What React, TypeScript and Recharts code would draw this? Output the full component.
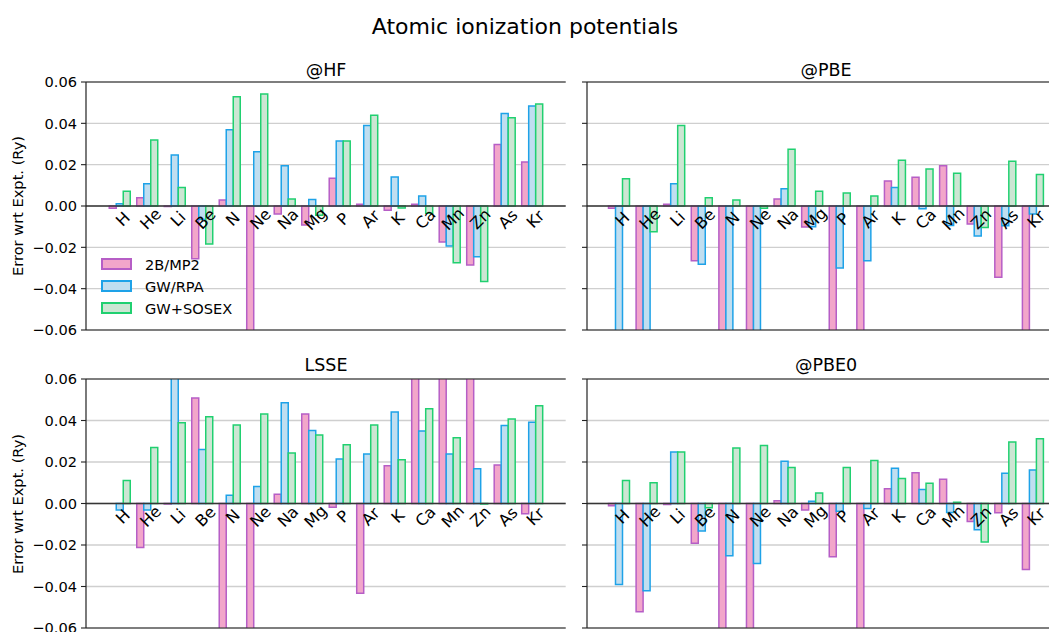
import React from 'react';
import {
  ComposedChart,
  Bar,
  Line,
  XAxis,
  YAxis,
  CartesianGrid,
  ReferenceLine,
  LabelList,
  Legend,
} from 'recharts';

// ---------- data ----------
const ELEMENTS = ['H', 'He', 'Li', 'Be', 'N', 'Ne', 'Na', 'Mg', 'P', 'Ar', 'K', 'Ca', 'Mn', 'Zn', 'As', 'Kr'];

const HF_MP2 = [-0.0011, 0.004, -0.0003, -0.0255, 0.0029, -0.075, -0.0039, -0.0092, 0.0134, 0.0008, -0.0021, 0.0008, -0.0174, -0.0285, 0.0297, 0.0213];
const HF_RPA = [0.0011, 0.0108, 0.0247, -0.0065, 0.0369, 0.0263, 0.0195, 0.0031, 0.0315, 0.0389, 0.014, 0.0048, -0.0194, -0.0245, 0.0448, 0.0484];
const HF_SOSEX = [0.0071, 0.0319, 0.0089, -0.0184, 0.0529, 0.0542, 0.0034, -0.0045, 0.0315, 0.0439, -0.001, -0.0035, -0.0274, -0.0365, 0.0427, 0.0494];

const PBE_MP2 = [-0.0011, -0.075, 0.0008, -0.0265, -0.075, -0.075, 0.0034, -0.0102, -0.075, -0.075, 0.0121, 0.0139, 0.0195, -0.0087, -0.0345, -0.075];
const PBE_RPA = [-0.075, -0.075, 0.0108, -0.0282, -0.075, -0.075, 0.0084, -0.01, -0.03, -0.0265, 0.009, -0.0013, -0.0094, -0.0145, -0.0096, -0.0039];
const PBE_SOSEX = [0.0132, -0.0124, 0.0389, 0.004, 0.0029, -0.0011, 0.0274, 0.0071, 0.0063, 0.0048, 0.0221, 0.0179, 0.0158, -0.0104, 0.0216, 0.0153];

const LSSE_MP2 = [0, -0.0212, -0.0003, 0.0508, -0.075, -0.075, 0.0045, 0.0431, -0.0018, -0.0432, 0.0182, 0.075, 0.075, 0.075, 0.0186, -0.005];
const LSSE_RPA = [-0.0031, -0.0031, 0.075, 0.026, 0.004, 0.0082, 0.0486, 0.0352, 0.0214, 0.0238, 0.0441, 0.0349, 0.0238, 0.0167, 0.0376, 0.0391];
const LSSE_SOSEX = [0.0111, 0.027, 0.0389, 0.0418, 0.0378, 0.0431, 0.0243, 0.033, 0.0283, 0.0378, 0.0211, 0.0457, 0.0317, -0.0003, 0.0407, 0.0471];

const PBE0_MP2 = [-0.0011, -0.0522, -0.0005, -0.0191, -0.075, -0.075, 0.0013, -0.0031, -0.0257, -0.075, 0.0071, 0.0148, 0.0117, -0.0087, -0.0045, -0.0318];
const PBE0_RPA = [-0.039, -0.042, 0.0248, -0.0133, -0.0252, -0.0289, 0.0204, 0.0011, -0.0037, -0.0024, 0.017, 0.0068, -0.0043, -0.0127, 0.0146, 0.0161];
const PBE0_SOSEX = [0.0111, 0.01, 0.0248, -0.0021, 0.0268, 0.028, 0.0174, 0.0051, 0.0174, 0.0207, 0.0121, 0.0098, 0.0006, -0.0185, 0.0296, 0.0312];

const Y_TICKS = [-0.06, -0.04, -0.02, 0, 0.02, 0.04, 0.06];

const SERIES = [
  { key: 'mp2', name: '2B/MP2', fill: '#f2a6ca', stroke: '#b65ec6' },
  { key: 'rpa', name: 'GW/RPA', fill: '#c0def0', stroke: '#1ea2e8' },
  { key: 'sosex', name: 'GW+SOSEX', fill: '#cce6d3', stroke: '#20d070' },
];

const buildRows = (mp2: number[], rpa: number[], sosex: number[]) =>
  ELEMENTS.map((el, i) => ({ el, mp2: mp2[i], rpa: rpa[i], sosex: sosex[i] }));

const FONT = '"DejaVu Sans", sans-serif';

const fmt = (v: number) => {
  const s = Math.abs(v).toFixed(2);
  return v < -1e-9 ? '\u2212' + s : s;
};

const ElementLabel = (props: any) => {
  const { x, y, value } = props;
  if (x == null || y == null) return null;
  const tx = Number(x) + 3;
  const ty = Number(y) + 13;
  return (
    <text
      x={tx}
      y={ty}
      transform={`rotate(-45 ${tx} ${ty})`}
      textAnchor="middle"
      dominantBaseline="central"
      fontSize={16}
      fontFamily={FONT}
      fill="#000"
    >
      {value}
    </text>
  );
};

const LegendContent = () => (
  <div style={{ display: 'flex', flexDirection: 'column', fontFamily: FONT }}>
    {SERIES.map((s) => (
      <div key={s.key} style={{ display: 'flex', alignItems: 'center', height: 22 }}>
        <div
          style={{
            width: 27,
            height: 8,
            background: s.fill,
            border: `2px solid ${s.stroke}`,
            marginRight: 13,
          }}
        />
        <span style={{ fontSize: 14.6, color: '#000', whiteSpace: 'nowrap' }}>{s.name}</span>
      </div>
    ))}
  </div>
);

type PanelProps = {
  rows: any[];
  left: number;
  top: number;
  width: number;
  height: number;
  showTickLabels: boolean;
  padL: number;
  padR: number;
  legend?: boolean;
};

const ML = 80;
const MT = 40;
const MR = 20;
const MB = 10;

function Panel({ rows, left, top, width, height, showTickLabels, padL, padR, legend }: PanelProps) {
  return (
    <div style={{ position: 'absolute', left: left - ML, top: top - MT }}>
      <ComposedChart
        width={width + ML + MR}
        height={height + MT + MB}
        data={rows}
        margin={{ top: MT, right: MR, bottom: MB, left: ML - 60 }}
        barGap={0}
      >
        <CartesianGrid vertical={false} stroke="#cfcfcf" strokeWidth={1.4} />
        <XAxis dataKey="el" hide padding={{ left: padL, right: padR }} />
        <YAxis
          width={60}
          domain={[-0.06, 0.06]}
          ticks={Y_TICKS}
          allowDataOverflow
          interval={0}
          tickFormatter={(v: number) => (showTickLabels ? fmt(v) : '')}
          tick={{ fontSize: 14.6, fill: '#000', fontFamily: FONT }}
          tickLine={{ stroke: '#222', strokeWidth: 1.1 }}
          tickSize={5}
          tickMargin={4}
          axisLine={{ stroke: '#222', strokeWidth: 1.2 }}
        />
        <YAxis
          yAxisId="r"
          orientation="right"
          width={0}
          domain={[-0.06, 0.06]}
          tick={false}
          tickLine={false}
          axisLine={{ stroke: '#222', strokeWidth: 1.2 }}
        />
        {SERIES.map((s) => (
          <Bar
            key={s.key}
            dataKey={s.key}
            name={s.name}
            fill={s.fill}
            stroke={s.stroke}
            strokeWidth={1.5}
            barSize={7}
            isAnimationActive={false}
          />
        ))}
        <ReferenceLine y={0} stroke="#363636" strokeWidth={1.6} />
        <ReferenceLine y={0.06} stroke="#222" strokeWidth={1.2} />
        <ReferenceLine y={-0.06} stroke="#222" strokeWidth={1.2} />
        <Line
          dataKey={() => 0}
          stroke="none"
          dot={false}
          activeDot={false}
          legendType="none"
          isAnimationActive={false}
        >
          <LabelList dataKey="el" content={ElementLabel} />
        </Line>
        {legend ? (
          <Legend
            layout="vertical"
            align="center"
            verticalAlign="middle"
            wrapperStyle={{ left: 95, top: 211, width: 'auto' }}
            content={LegendContent}
          />
        ) : null}
      </ComposedChart>
    </div>
  );
}

const textBase: React.CSSProperties = {
  position: 'absolute',
  fontFamily: FONT,
  color: '#000',
  textAlign: 'center',
  whiteSpace: 'nowrap',
};

function CenterText({ cx, cy, size, text }: { cx: number; cy: number; size: number; text: string }) {
  const w = 500;
  const h = size * 1.4;
  return (
    <div style={{ ...textBase, left: cx - w / 2, top: cy - h / 2, width: w, height: h, lineHeight: `${h}px`, fontSize: size }}>
      {text}
    </div>
  );
}

function YLabel({ cx, cy }: { cx: number; cy: number }) {
  const w = 220;
  const h = 20;
  return (
    <div
      style={{
        ...textBase,
        left: cx - w / 2,
        top: cy - h / 2,
        width: w,
        height: h,
        lineHeight: `${h}px`,
        fontSize: 14.6,
        transform: 'rotate(-90deg)',
      }}
    >
      Error wrt Expt. (Ry)
    </div>
  );
}

export default function App() {
  const L = { left: 86, width: 479.7, padL: 20.25, padR: 19.5 };
  const R = { left: 586.5, width: 479, padL: 18.5, padR: 19 };
  const T = { top: 82, height: 248 };
  const B = { top: 379.3, height: 249 };
  return (
    <div
      style={{
        position: 'absolute',
        left: 0,
        top: 0,
        width: 1049,
        height: 632,
        overflow: 'hidden',
        background: '#fff',
        fontFamily: FONT,
      }}
    >
      <CenterText cx={525} cy={27} size={22} text="Atomic ionization potentials" />
      <CenterText cx={326} cy={70} size={17.5} text="@HF" />
      <CenterText cx={826} cy={70} size={17.5} text="@PBE" />
      <CenterText cx={326} cy={365} size={17.5} text="LSSE" />
      <CenterText cx={826} cy={365} size={17.5} text="@PBE0" />
      <YLabel cx={18} cy={206} />
      <YLabel cx={18} cy={504} />

      <Panel rows={buildRows(HF_MP2, HF_RPA, HF_SOSEX)} {...L} {...T} showTickLabels legend />
      <Panel rows={buildRows(PBE_MP2, PBE_RPA, PBE_SOSEX)} {...R} {...T} showTickLabels={false} />
      <Panel rows={buildRows(LSSE_MP2, LSSE_RPA, LSSE_SOSEX)} {...L} {...B} showTickLabels />
      <Panel rows={buildRows(PBE0_MP2, PBE0_RPA, PBE0_SOSEX)} {...R} {...B} showTickLabels={false} />
    </div>
  );
}
